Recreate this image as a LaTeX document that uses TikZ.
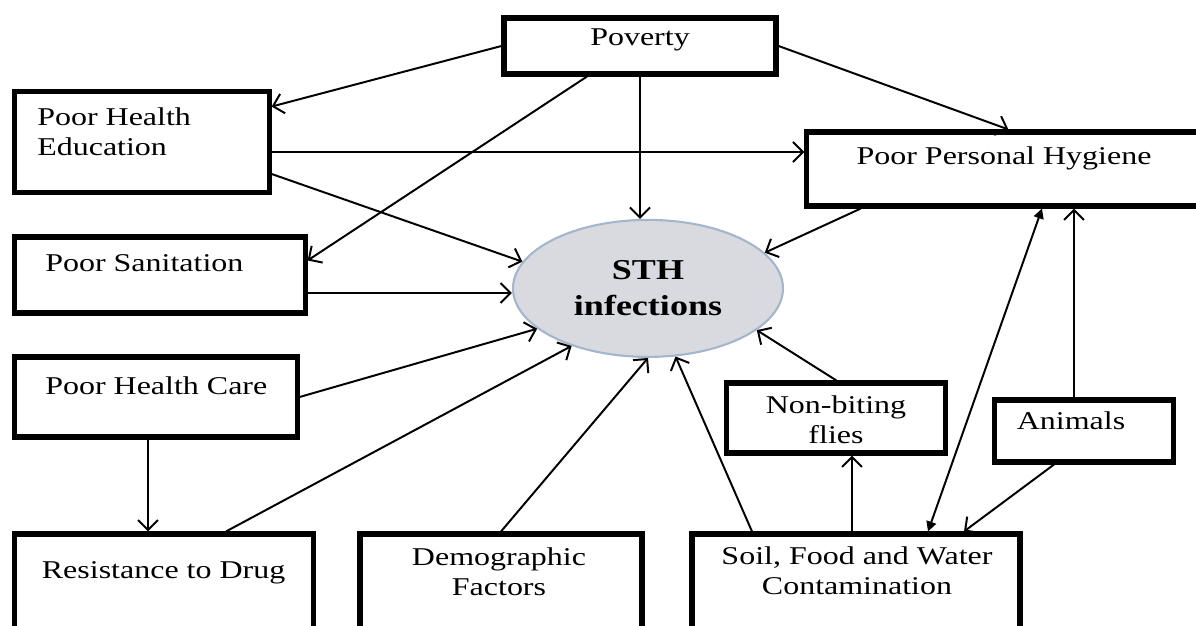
\documentclass[tikz,border=0pt]{standalone}
\usepackage{fontspec}
\setmainfont{Liberation Serif}[FakeStretch=1.25]
\usepackage{tikz}
\usetikzlibrary{calc, positioning, shapes.geometric, arrows.meta}
\definecolor{sthfill}{HTML}{D9DADF}
\definecolor{sthedge}{HTML}{A4B6CC}

\begin{document}
\begin{tikzpicture}[
  factor/.style={draw, line width=3.6pt, inner sep=0pt},
  lbl/.style={font=\fontsize{18.2}{21.5}\selectfont, inner sep=0pt, align=center},
  link/.style={line width=1.4pt, -{Straight Barb[length=2.5mm,width=5mm]}},
  infect/.style={ellipse, draw=sthedge, line width=1.5pt, fill=sthfill,
                 inner sep=0pt, align=center,
                 font=\fontsize{20.5}{25.5}\selectfont\bfseries},
]
\useasboundingbox (0,0) rectangle (29.9,15.65);
\clip (0,0) rectangle (29.9,15.65);

% boxes
\node[factor, minimum width=6.8cm, minimum height=1.4cm] (pov) at (16,14.5) {};
\node[factor, minimum width=6.375cm, minimum height=2.525cm] (phe) at (3.54,12.09) {};
\node[factor, minimum width=7.275cm, minimum height=1.9cm] (san) at (3.99,8.775) {};
\node[factor, minimum width=7.075cm, minimum height=2cm] (phc) at (3.89,5.725) {};
\node[factor, minimum width=7.475cm, minimum height=2.65cm] (res) at (4.09,0.975) {};
\node[factor, minimum width=7.05cm, minimum height=2.65cm] (dem) at (12.525,0.975) {};
\node[factor, minimum width=8.2cm, minimum height=2.65cm] (soil) at (21.4,0.975) {};
\node[factor, minimum width=5.475cm, minimum height=1.75cm] (flies) at (20.91,5.2) {};
\node[factor, minimum width=4.475cm, minimum height=1.55cm] (anim) at (27.09,4.875) {};
\node[factor, minimum width=10.075cm, minimum height=1.85cm] (pph) at (25.21,11.425) {};
\node[infect, minimum width=6.75cm, minimum height=3.425cm] (sth) at (16.2,8.44) {STH\\infections};

% texts
\node[lbl] (pov-t) at (16,14.65) {Poverty};
\node[lbl, anchor=west, align=left] (phe-t) at (0.925,12.36) {Poor Health\\Education};
\node[lbl, anchor=west] (san-t) at (1.125,9.075) {Poor Sanitation};
\node[lbl, anchor=west] (phc-t) at (1.125,6.0) {Poor Health Care};
\node[lbl] (res-t) at (4.09,1.325) {Resistance to Drug};
\node[lbl] (dem-t) at (12.475,1.36) {Demographic\\Factors};
\node[lbl] (soil-t) at (21.425,1.375) {Soil, Food and Water\\Contamination};
\node[lbl] (flies-t) at (20.9,5.16) {Non-biting\\flies};
\node[lbl] (anim-t) at (26.775,5.125) {Animals};
\node[lbl] (pph-t) at (25.1,11.7) {Poor Personal Hygiene};

% connectors
\coordinate (pov-s) at ([xshift=-1.325cm]pov.south);
\coordinate (phe-h) at ([yshift=-0.24cm]phe.east);
\coordinate (phe-d) at ([yshift=-0.79cm]phe.east);
\coordinate (san-h) at ([yshift=-0.45cm]san.east);
\coordinate (phc-d) at ([xshift=-0.19cm]phc.south);
\coordinate (soil-f) at ([xshift=-0.1cm]soil.north);
\coordinate (anim-u) at ([xshift=-0.24cm]anim.north);

\draw[link] (pov.west) -- ([yshift=-0.43cm]phe.north east);
\draw[link] (pov-s) -- ([yshift=-0.65cm]san.north east);
\draw[link] (pov.east) -- (pph.north);
\draw[link] (pov.south) -- (pov.south |- sth.north);
\draw[link] (phe-h) -- (phe-h -| pph.west);
\draw[link] (phe-d) -- (sth.168);
\draw[link] (san-h) -- (san-h -| sth.west);
\draw[link] (phc.east) -- (sth.200);
\draw[link] ([xshift=1.56cm]res.north) -- (sth.217);
\draw[link] (phc-d) -- (phc-d |- res.north);
\draw[link] (dem.north) -- (sth.south);
\draw[link] ([xshift=-2.6cm]soil.north) -- (sth.292);
\draw[link] (flies.north) -- (sth.339);
\draw[link] (soil-f) -- (soil-f |- flies.south);
\draw[link] ([xshift=-3.69cm]pph.south) -- (sth.17);
\draw[link] (anim-u) -- (anim-u |- pph.south);
\draw[link] ([xshift=-0.74cm]anim.south) -- ([xshift=2.7cm]soil.north);
\draw[link, {Triangle[length=2.5mm,width=2.5mm]}-{Triangle[length=2.5mm,width=2.5mm]}]
  ([xshift=0.84cm]pph.south) -- ([xshift=1.8cm]soil.north);
\end{tikzpicture}
\end{document}
